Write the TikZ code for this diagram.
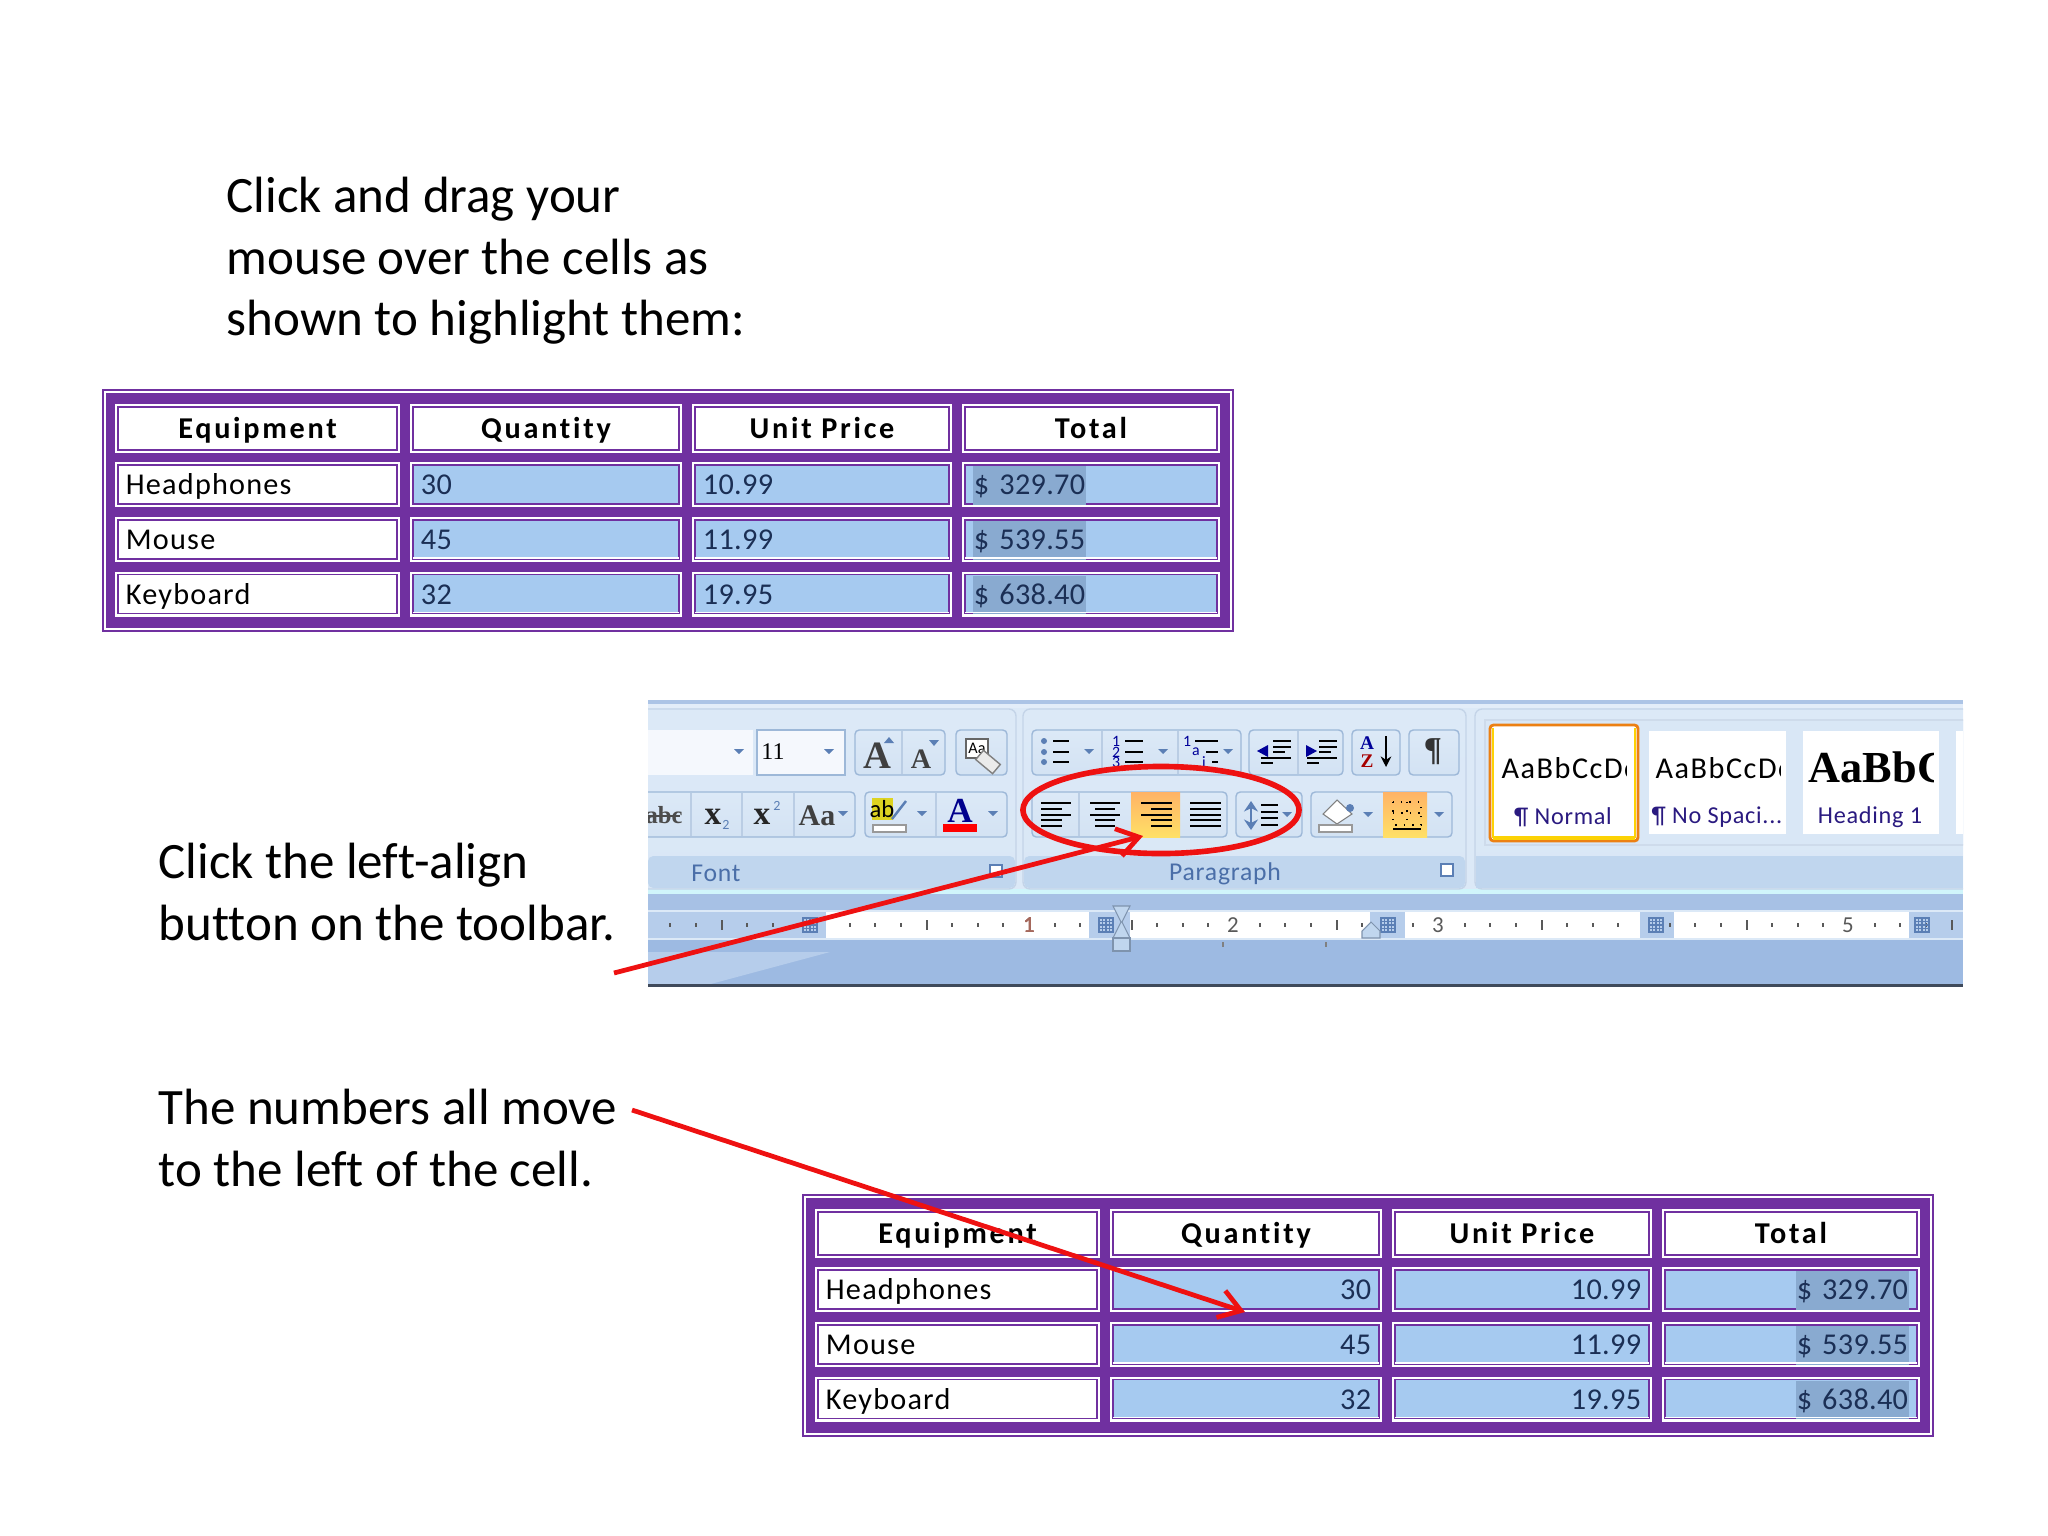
\documentclass[tikz,border=0pt]{standalone}
\usepackage{fontspec}
\usepackage{xcolor}
\usepackage{tikz}
\usetikzlibrary{shapes.geometric}
\usetikzlibrary{positioning}
\usetikzlibrary{arrows.meta}
\setmainfont[Ligatures=CommonOff]{Carlito}
\newfontfamily\tablefont[LetterSpace=4,Ligatures=CommonOff]{Carlito}
\newfontfamily\headfont[LetterSpace=9,Ligatures=CommonOff]{Carlito}
\newfontfamily\numfont[LetterSpace=1]{Carlito}
\newfontfamily\uifont[LetterSpace=3]{Carlito}
\newfontfamily\samplefont[LetterSpace=5]{Carlito}
\newfontfamily\glyphfont{Liberation Serif}
\definecolor{tablePurple}{HTML}{7030A0}
\definecolor{cellBlue}{HTML}{A6CAF0}
\definecolor{selBlue}{HTML}{89AAD0}
\definecolor{numInk}{HTML}{1B2F55}
\definecolor{ribbonTop}{HTML}{DCE9F7}
\definecolor{ribbonBand}{HTML}{C0D6EE}
\definecolor{ribbonLow}{HTML}{9DBAE2}
\definecolor{rulerBlue}{HTML}{B6CDEB}
\definecolor{buttonEdge}{HTML}{9DB8D8}
\definecolor{dropBlue}{HTML}{5B7FB5}
\definecolor{labelBlue}{HTML}{4A6EA8}
\definecolor{styleInk}{HTML}{2A1A80}
\definecolor{arrowRed}{HTML}{EE1111}
\definecolor{digitRed}{HTML}{A5685C}
\newcommand{\fsz}[1]{\fontsize{#1}{#1}\selectfont}
\newcommand{\hilite}[1]{{\setlength{\fboxsep}{0.3pt}\colorbox{selBlue}{\rule[-0.09cm]{0pt}{0.36cm}#1}}}
\tikzstyle{caption} = [anchor=west, align=left, inner sep=0pt, font=\fontsize{14.5pt}{17.5pt}\selectfont]
\tikzstyle{tableFrame} = [rectangle, draw=tablePurple, fill=tablePurple, line width=0.55pt, double=white, double distance=0.55pt, inner sep=0pt]
\tikzstyle{cell} = [rectangle, inner sep=0pt, draw=tablePurple, line width=0.55pt, preaction={draw=white, line width=1.7pt}, text height=0.25cm, text depth=0.05cm, font=\tablefont\fontsize{8.6pt}{9pt}\selectfont]
\tikzstyle{headCell} = [cell, fill=white, font=\headfont\bfseries\fontsize{8.6pt}{9pt}\selectfont, align=center]
\tikzstyle{nameCell} = [cell, fill=white, align=left]
\tikzstyle{valueCell} = [cell, fill=cellBlue, text=numInk, font=\numfont\fontsize{8.6pt}{9pt}\selectfont]
\tikzstyle{panel} = [draw=buttonEdge!60!white, line width=0.4pt, rounded corners=2pt, top color=ribbonTop, bottom color=ribbonTop!90!ribbonBand]
\tikzstyle{button} = [draw=buttonEdge, line width=0.4pt, rounded corners=1.2pt, top color=ribbonTop, bottom color=ribbonBand!70!white]
\tikzstyle{sepLine} = [draw=buttonEdge!70!white, line width=0.3pt]
\tikzstyle{activeFill} = [top color=orange!60!white, middle color=orange!85!yellow, bottom color=yellow!60!orange!60!white]
\tikzstyle{iconLine} = [draw=black, line width=0.55pt]
\tikzstyle{glyph} = [inner sep=0pt, font=\glyphfont\bfseries]
\tikzstyle{groupLabel} = [inner sep=0pt, text=labelBlue, font=\uifont\fontsize{7.3pt}{8pt}\selectfont]
\tikzstyle{styleLabel} = [inner sep=0pt, text=styleInk, font=\uifont\fontsize{6.9pt}{8pt}\selectfont]
\tikzstyle{rulerDigit} = [inner sep=0pt, text=black!65, font=\uifont\fontsize{6.5pt}{7pt}\selectfont]
\tikzstyle{arrow} = [draw=arrowRed, line width=1.35pt, -{Straight Barb[length=6pt,width=8pt,line width=1.35pt]}]
\newcommand{\dropmark}[2]{\fill[dropBlue, shift={(#1,#2)}] (-5,-2) -- (5,-2) -- (0,3) -- cycle;}
\newcommand{\launcher}[2]{\draw[dropBlue, fill=white, line width=0.3pt, shift={(#1,#2)}] (-6,-6) rectangle (6,6);}
\newcommand{\rulerhash}[1]{\foreach \off in {-7,-3.5,0,3.5,7} {\draw[dropBlue, line width=0.3pt] (#1+\off,917) -- (#1+\off,933); \draw[dropBlue, line width=0.3pt] (#1-8,925+\off) -- (#1+8,925+\off);}}
\newcommand{\alignlines}[6]{\foreach \lineY/\lineA/\lineB in {803/#1/#2, 809/#3/#4, 815/#1/#2, 820/#3/#4, 826/#5/#6} \draw[iconLine] (\lineA,\lineY) -- (\lineB,\lineY);}
\newcommand{\salestable}[4]{
  \begin{scope}[shift={(#2,#3)}]
    \node (#1Frame) [tableFrame, minimum width=11.26cm, minimum height=2.37cm] at (668,510.5) {};
    \node (#1HeadA) [headCell, minimum width=2.79cm, minimum height=0.43cm] at (257.5,428.5) {Equipment};
    \node (#1HeadB) [headCell, minimum width=2.66cm, minimum height=0.43cm] at (546,428.5) {Quantity};
    \node (#1HeadC) [headCell, minimum width=2.54cm, minimum height=0.43cm] at (822,428.5) {Unit Price};
    \node (#1HeadD) [headCell, minimum width=2.52cm, minimum height=0.43cm] at (1091,428.5) {Total};
    \foreach \rowId/\rowY/\rowName/\rowQty/\rowPrice/\rowTotal in {A/484.5/Headphones/30/10.99/329.70, B/539.5/Mouse/45/11.99/539.55, C/594/Keyboard/32/19.95/638.40} {
      \node (#1Name\rowId) [nameCell, minimum height=0.39cm, text width=2.63cm, minimum width=2.79cm, align=left] at (257.5,\rowY) {\rowName};
      \node (#1Qty\rowId) [valueCell, minimum height=0.39cm, text width=2.50cm, minimum width=2.66cm, align=#4] at (546,\rowY) {\rowQty};
      \node (#1Price\rowId) [valueCell, minimum height=0.39cm, text width=2.38cm, minimum width=2.54cm, align=#4] at (822,\rowY) {\rowPrice};
      \node (#1Total\rowId) [valueCell, minimum height=0.39cm, text width=2.36cm, minimum width=2.52cm, align=#4] at (1091,\rowY) {\hilite{\$ \rowTotal}};
    }
    \foreach \rowId in {B,C} \foreach \colId in {Qty,Price,Total}
      \draw[white, line width=0.45pt] ([xshift=0.4pt,yshift=0.6pt]#1\colId\rowId.south west) -- ([xshift=-0.4pt,yshift=0.6pt]#1\colId\rowId.south east);
  \end{scope}
}

\begin{document}
\begin{tikzpicture}[x=0.01cm, y=-0.01cm]
    \useasboundingbox (0,0) rectangle (2048,1536);

    \node (dragNote) [caption] at (226,261) {Click and drag your\\mouse over the cells as\\shown to highlight them:};
    \node (clickNote) [caption] at (158,892) {Click the left-align\\button on the toolbar.};
    \node (moveNote) [caption] at (158,1138) {The numbers all move\\to the left of the cell.};

    \salestable{before}{0}{0}{left}

    \begin{scope}
    \clip (648,700) rectangle (1963,987);
    \fill[ribbonTop] (648,700) rectangle (1963,892);
    \fill[ribbonLow!85!white] (648,700) rectangle (1963,704);
    \fill[ribbonTop!80!cyan!60!white] (648,889) rectangle (1963,894);
    \fill[ribbonLow!90!white] (648,894) rectangle (1963,984);
    \fill[ribbonLow] (648,938) rectangle (1963,984);
    \fill[rulerBlue] (648,952) -- (830,952) -- (707,985) -- (648,985) -- cycle;
    \fill[black!60!ribbonLow] (648,984) rectangle (1963,987);

    \draw[panel] (640,709) rectangle (1016,889);
    \draw[panel] (1023,709) rectangle (1466,889);
    \draw[panel] (1475,709) rectangle (1975,889);
    \fill[ribbonBand, rounded corners=1.5pt] (648,856) rectangle (1015,888);
    \fill[ribbonBand, rounded corners=1.5pt] (1024,856) rectangle (1465,888);
    \fill[ribbonBand] (1476,856) rectangle (1963,888);
    \fill[white!20!ribbonTop] (648,704) rectangle (1963,708);

    \node (fontLabel) [groupLabel] at (716,873) {Font};
    \node (paragraphLabel) [groupLabel] at (1225,874) {Paragraph};
    \launcher{996}{871}
    \launcher{1447}{870}

    \fill[white!70!ribbonTop] (648,730) rectangle (753,775);
    \fill[white!70!ribbonTop] (757,730) rectangle (845,775);
    \draw[buttonEdge] (757,730) rectangle (845,775);
    \dropmark{739}{751}
    \dropmark{829}{751}
    \node (sizeText) [inner sep=0pt, font=\glyphfont\fontsize{6.8pt}{7pt}\selectfont] at (773,752) {11};
    \draw[button] (855,730) rectangle (945,775);
    \draw[sepLine] (902,731) -- (902,774);
    \node (growGlyph) [glyph, font=\glyphfont\bfseries\fontsize{11pt}{11pt}\selectfont, text=black!75] at (877,756) {A};
    \node (shrinkGlyph) [glyph, font=\glyphfont\bfseries\fontsize{8pt}{8pt}\selectfont, text=black!75] at (921,759) {A};
    \fill[dropBlue] (884,743) -- (894,743) -- (889,737) -- cycle;
    \fill[dropBlue] (929,740) -- (939,740) -- (934,746) -- cycle;
    \draw[button] (956,730) rectangle (1007,775);
    \draw[black!60, fill=white, line width=0.3pt] (966,739) rectangle (988,758);
    \node (clearGlyph) [inner sep=0pt, font=\fsz{4.6pt}] at (977,748) {Aa};
    \draw[black!50, fill=black!8, line width=0.4pt, rotate around={-40:(988,762)}] (977,756) rectangle (999,768);

    \draw[button] (640,792) rectangle (855,837);
    \foreach \sepX in {691,742,794} \draw[sepLine] (\sepX,793) -- (\sepX,836);
    \node (strikeGlyph) [glyph, font=\glyphfont\bfseries\fontsize{7pt}{7pt}\selectfont, text=black!70] at (664,815) {abc};
    \draw[black!70, line width=0.5pt] (648,816) -- (680,816);
    \node (subGlyph) [glyph, font=\glyphfont\bfseries\fontsize{9.5pt}{9.5pt}\selectfont, text=black!85] at (713,817) {x};
    \node (subMark) [inner sep=0pt, text=dropBlue, font=\fsz{4pt}] at (726,825) {2};
    \node (supGlyph) [glyph, font=\glyphfont\bfseries\fontsize{9.5pt}{9.5pt}\selectfont, text=black!85] at (762,817) {x};
    \node (supMark) [inner sep=0pt, text=dropBlue, font=\fsz{4pt}] at (777,806) {2};
    \node (caseGlyph) [glyph, font=\glyphfont\bfseries\fontsize{8.5pt}{8.5pt}\selectfont, text=black!75] at (817,816) {Aa};
    \dropmark{843}{813}
    \draw[button] (865,792) rectangle (1007,837);
    \draw[sepLine] (936,793) -- (936,836);
    \fill[yellow!85!black] (872,798) rectangle (893,820);
    \node (markGlyph) [inner sep=0pt, font=\fsz{7pt}] at (882,809) {ab};
    \draw[dropBlue, line width=0.7pt] (892,819) -- (906,801);
    \draw[black!40, fill=white, line width=0.3pt] (873,825) rectangle (906,832);
    \dropmark{922}{813}
    \node (colorGlyph) [glyph, font=\glyphfont\bfseries\fontsize{10pt}{10pt}\selectfont, text=blue!55!black] at (960,811) {A};
    \fill[red] (943,824) rectangle (977,832);
    \dropmark{993}{813}

    \draw[button] (1032,730) rectangle (1241,775);
    \foreach \sepX in {1102,1178} \draw[sepLine] (\sepX,731) -- (\sepX,774);
    \foreach \rowY in {741,752,762} {
      \fill[dropBlue] (1044,\rowY) circle (3);
      \draw[iconLine] (1053,\rowY) -- (1069,\rowY);
      \draw[iconLine] (1125,\rowY) -- (1143,\rowY);
    }
    \node (numOne) [inner sep=0pt, text=blue!60!black, font=\fsz{4.5pt}] at (1116,741) {1};
    \node (numTwo) [inner sep=0pt, text=blue!60!black, font=\fsz{4.5pt}] at (1116,752) {2};
    \node (numThree) [inner sep=0pt, text=blue!60!black, font=\fsz{4.5pt}] at (1116,762) {3};
    \node (levelOne) [inner sep=0pt, text=blue!60!black, font=\fsz{4.5pt}] at (1187,741) {1};
    \node (levelTwo) [inner sep=0pt, text=blue!60!black, font=\fsz{4.5pt}] at (1196,752) {a};
    \node (levelThree) [inner sep=0pt, text=blue!60!black, font=\fsz{4.5pt}] at (1204,762) {i};
    \draw[iconLine] (1195,741) -- (1218,741);
    \draw[iconLine] (1206,752) -- (1218,752);
    \draw[iconLine] (1212,762) -- (1218,762);
    \dropmark{1089}{751}
    \dropmark{1163}{751}
    \dropmark{1228}{751}

    \draw[button] (1249,730) rectangle (1343,775);
    \draw[sepLine] (1298,731) -- (1298,774);
    \foreach \rowY/\lineA/\lineB in {741/1273/1291, 747/1273/1291, 752/1273/1285, 758/1261/1291, 763/1261/1273} {
      \draw[iconLine] (\lineA,\rowY) -- (\lineB,\rowY);
      \draw[iconLine] (\lineA+46,\rowY) -- (\lineB+46,\rowY);
    }
    \fill[blue!60!black] (1257,751) -- (1268,745) -- (1268,757) -- cycle;
    \fill[blue!60!black] (1317,751) -- (1306,745) -- (1306,757) -- cycle;
    \draw[button] (1352,730) rectangle (1400,775);
    \node (sortA) [inner sep=0pt, text=blue!60!black, font=\glyphfont\bfseries\fontsize{5.5pt}{6pt}\selectfont] at (1367,743) {A};
    \node (sortZ) [inner sep=0pt, text=red!65!black, font=\glyphfont\bfseries\fontsize{5.5pt}{6pt}\selectfont] at (1367,761) {Z};
    \draw[black, line width=0.5pt, -{Stealth[length=3pt,width=3pt]}] (1386,736) -- (1386,767);
    \draw[button] (1409,730) rectangle (1459,775);
    \node (pilcrowGlyph) [glyph, font=\glyphfont\bfseries\fontsize{9.5pt}{10pt}\selectfont, text=black!80] at (1433,752) {¶};

    \draw[button] (1032,792) rectangle (1227,837);
    \fill[activeFill] (1131,792) rectangle (1180,837);
    \draw[sepLine] (1079,793) -- (1079,836);
    \alignlines{1041}{1071}{1041}{1062}{1041}{1062}
    \alignlines{1090}{1120}{1095}{1115}{1095}{1115}
    \alignlines{1141}{1172}{1151}{1172}{1151}{1172}
    \alignlines{1190}{1221}{1190}{1221}{1190}{1221}

    \draw[button] (1236,792) rectangle (1302,837);
    \foreach \rowY in {805,812,818,825} \draw[iconLine] (1261,\rowY) -- (1278,\rowY);
    \draw[dropBlue, line width=0.8pt, {Stealth[length=3pt,width=4pt]}-{Stealth[length=3pt,width=4pt]}] (1251,801) -- (1251,830);
    \dropmark{1287}{814}

    \draw[button] (1311,792) rectangle (1452,837);
    \fill[activeFill] (1383,792) rectangle (1427,837);
    \fill[white, draw=black!50, line width=0.3pt] (1337,800) -- (1352,814) -- (1337,824) -- (1323,814) -- cycle;
    \fill[dropBlue] (1350,808) circle (4);
    \draw[black!40, fill=white, line width=0.3pt] (1319,825) rectangle (1352,832);
    \dropmark{1368}{814}
    \draw[black, line width=0.4pt, dotted] (1393,802) rectangle (1421,825);
    \draw[black, line width=0.4pt, dotted] (1407,802) -- (1407,825);
    \draw[black, line width=0.4pt, dotted] (1393,813) -- (1421,813);
    \draw[black, line width=0.7pt] (1393,829) -- (1421,829);
    \dropmark{1439}{814}

    \fill[ribbonTop!90!ribbonBand, draw=buttonEdge!50!white] (1485,720) rectangle (1975,845);
    \fill[white, draw=orange!70!brown, line width=0.8pt, rounded corners=1pt] (1490,725) rectangle (1638,841);
    \draw[yellow!70!orange, line width=1pt] (1493,838) -- (1635,838);
    \draw[yellow!70!orange, line width=0.8pt] (1493,728) -- (1493,838);
    \draw[yellow!70!orange, line width=0.8pt] (1635,728) -- (1635,838);
    \fill[white] (1649,731) rectangle (1786,834);
    \fill[white] (1803,731) rectangle (1939,834);
    \fill[white] (1956,731) rectangle (1963,834);
    \begin{scope}
      \clip (1496,731) rectangle (1626,834);
      \node (normalSample) [inner sep=0pt, anchor=west, font=\samplefont\fontsize{8.6pt}{9pt}\selectfont] at (1501,768) {AaBbCcDc};
    \end{scope}
    \begin{scope}
      \clip (1649,731) rectangle (1780,834);
      \node (spacingSample) [inner sep=0pt, anchor=west, font=\samplefont\fontsize{8.6pt}{9pt}\selectfont] at (1655,768) {AaBbCcDc};
    \end{scope}
    \begin{scope}
      \clip (1803,731) rectangle (1933,834);
      \node (headingSample) [inner sep=0pt, anchor=west, font=\glyphfont\bfseries\fontsize{12.6pt}{13pt}\selectfont] at (1808,767) {AaBbCc};
    \end{scope}
    \node (normalName) [styleLabel] at (1563,817) {¶ Normal};
    \node (spacingName) [styleLabel] at (1717,817) {¶ No Spaci...};
    \node (headingName) [styleLabel] at (1870,817) {Heading 1};

    \fill[rulerBlue] (648,910) rectangle (1963,940);
    \fill[ribbonTop] (648,910) rectangle (1963,912);
    \fill[ribbonTop] (648,938) rectangle (1963,940);
    \fill[white] (826,912) rectangle (1089,938);
    \fill[white] (1130,912) rectangle (1370,938);
    \fill[white] (1405,912) rectangle (1640,938);
    \fill[white] (1674,912) rectangle (1909,938);
    \foreach \inch in {-1,...,5} {
      \foreach \eighth in {1,2,3,5,6,7} \fill[black!65] (824+\inch*205+\eighth*25.6-1,923) rectangle (824+\inch*205+\eighth*25.6+1,927);
      \fill[black!65] (824+\inch*205+102.5-1,920) rectangle (824+\inch*205+102.5+1,930);
    }
    \foreach \markX in {810,1106,1388,1656,1922} \rulerhash{\markX}
    \node (rulerOne) [rulerDigit, text=digitRed] at (1029,925) {1};
    \node (rulerTwo) [rulerDigit] at (1233,925) {2};
    \node (rulerThree) [rulerDigit] at (1438,925) {3};
    \node (rulerFive) [rulerDigit] at (1848,925) {5};
    \draw[buttonEdge!80!black, fill=ribbonBand, line width=0.3pt] (1113,906) -- (1130,906) -- (1122,922) -- (1130,938) -- (1113,938) -- (1121,922) -- cycle;
    \draw[buttonEdge!80!black, fill=ribbonBand, line width=0.3pt] (1113,938) rectangle (1130,951);
    \draw[buttonEdge!80!black, fill=ribbonBand, line width=0.3pt] (1362,938) -- (1362,931) -- (1371,922) -- (1380,931) -- (1380,938) -- cycle;
    \foreach \markX in {1223,1326} \fill[black!50] (\markX-1,942) rectangle (\markX+1,947);
    \end{scope}

    \salestable{after}{700}{805}{right}

    \node (alignRing) [ellipse, draw=arrowRed, line width=1.6pt, inner sep=0pt, minimum width=2.76cm, minimum height=0.87cm] at (1161,810) {};
    \coordinate (clickTail) at (614,973);
    \coordinate (clickTip) at (1143,836);
    \coordinate (moveTail) at (632,1110);
    \coordinate (moveTip) at (1245,1312);
    \draw [arrow] (clickTail) -- (clickTip);
    \draw [arrow] (moveTail) -- (moveTip);
\end{tikzpicture}
\end{document}
